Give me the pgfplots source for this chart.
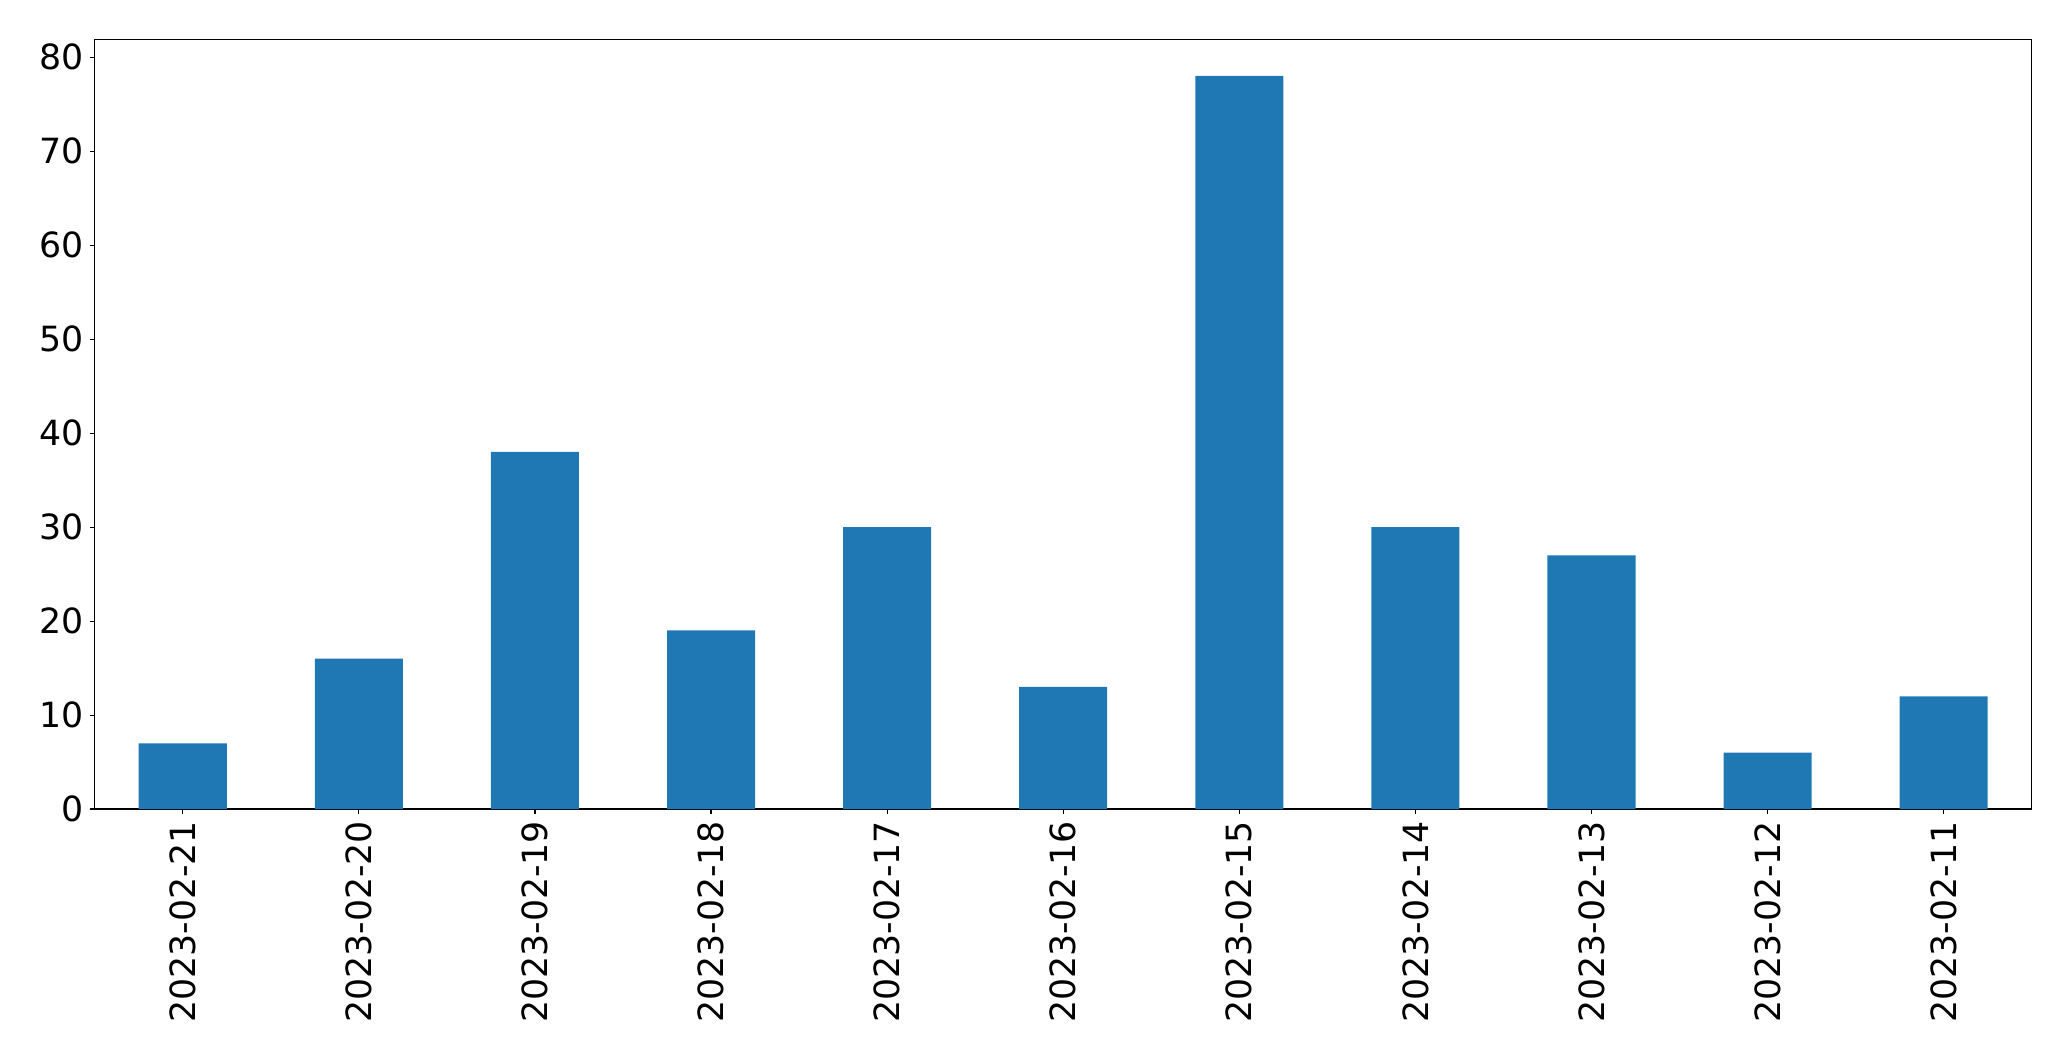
\documentclass[border=0pt]{standalone}
\usepackage{pgfplots}
\pgfplotsset{compat=1.18}
\usepackage{fontspec}
\setmainfont{DejaVu Sans}
\definecolor{mplblue}{HTML}{1F77B4}
\begin{document}
\begin{tikzpicture}
\begin{axis}[
  scale only axis,
  width=1394.6pt, height=554.2pt,
  ybar, bar width=0.5,
  xmin=-0.5, xmax=10.5,
  ymin=0, ymax=81.9,
  xtick={0,...,10},
  xticklabels={2023-02-21,2023-02-20,2023-02-19,2023-02-18,2023-02-17,2023-02-16,2023-02-15,2023-02-14,2023-02-13,2023-02-12,2023-02-11},
  ytick={0,10,...,80},
  xtick pos=bottom, ytick pos=left,
  tick align=outside,
  major tick length=3.6pt,
  axis line style={line width=0.8pt},
  every tick/.style={line width=0.8pt, black},
  /pgf/number format/assume math mode=true,
  tick label style={font=\fontsize{25}{30}\selectfont, inner sep=0pt},
  xticklabel style={rotate=90, anchor=east, yshift=0pt},
  yticklabel style={anchor=east},
  xticklabel shift=4.8pt,
  yticklabel shift=4.5pt,
  grid=none,
]
\addplot[fill=mplblue, draw=none] coordinates {
(0,7) (1,16) (2,38) (3,19) (4,30) (5,13) (6,78) (7,30) (8,27) (9,6) (10,12)
};
\end{axis}
\path ([shift={(-68.2pt,-181.4pt)}]current axis.south west) rectangle ([shift={(28.3pt,28.3pt)}]current axis.north east);
\end{tikzpicture}
\end{document}
